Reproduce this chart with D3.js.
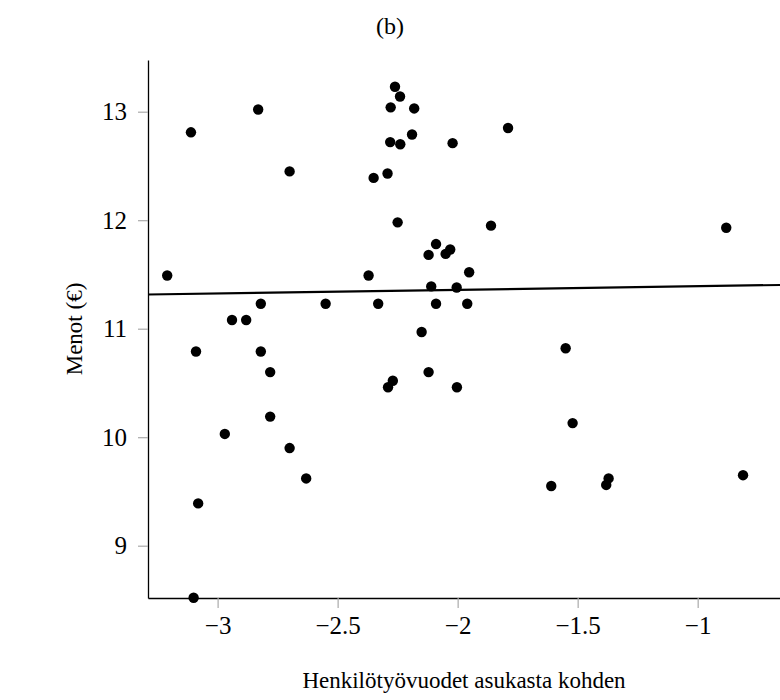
<!DOCTYPE html>
<html>
<head>
<meta charset="utf-8">
<script src="https://cdn.jsdelivr.net/npm/d3@7"></script>
<style>
    body { margin: 0; background: #fff; }
    svg { display: block; font-family: "Liberation Serif", "DejaVu Serif", serif; }
</style>
</head>
<body>
<div id="chart"></div>
<script>
// henkilötyövuodet (log) vs menot (log)
const staffYears = [
    -2.261, -2.240, -2.279, -2.181, -2.831, -3.111, -2.190, -2.281, -2.239, -2.021,
    -2.700, -2.292, -2.350, -2.250, -2.090, -2.121, -2.050, -2.031, -3.210, -2.371,
    -2.110, -2.004, -2.820, -2.550, -2.331, -2.090, -2.940, -2.881, -1.790, -1.861,
    -0.881, -1.952, -1.960, -2.150, -3.090, -2.820, -2.781, -2.121, -2.270, -2.290,
    -2.003, -2.781, -2.970, -2.700, -2.631, -3.081, -3.100, -1.550, -1.521, -1.610,
    -1.371, -1.381, -0.811
];
const expenses = [
    13.23, 13.14, 13.04, 13.03, 13.02, 12.81, 12.79, 12.72, 12.70, 12.71,
    12.45, 12.43, 12.39, 11.98, 11.78, 11.68, 11.69, 11.73, 11.49, 11.49,
    11.39, 11.38, 11.23, 11.23, 11.23, 11.23, 11.08, 11.08, 12.85, 11.95,
    11.93, 11.52, 11.23, 10.97, 10.79, 10.79, 10.60, 10.60, 10.52, 10.46,
    10.46, 10.19, 10.03, 9.90, 9.62, 9.39, 8.52, 10.82, 10.13, 9.55,
    9.62, 9.56, 9.65
];

// fitted line, read from its two ends
const fitX = [-3.29, -0.657];
const fitY = [11.315, 11.403];

const xTicks = [-3, -2.5, -2, -1.5, -1];
const yTicks = [9, 10, 11, 12, 13];

const width = 780, height = 700;
const margin = { left: 148, right: 0, top: 60, bottom: 102 };

const svg = d3.select('#chart')
    .append('svg')
    .attr('width', width)
    .attr('height', height);

const xScale = d3.scaleLinear()
    .domain([-3.29, -0.657])
    .range([margin.left, width - margin.right]);

const yScale = d3.scaleLinear()
    .domain([8.518, 13.4765])
    .range([height - margin.bottom, margin.top]);

const fmt = d => String(d).replace('-', '\u2212');

// axes
const xAxis = svg.append('g')
    .attr('transform', `translate(0, ${height - margin.bottom})`)
    .call(d3.axisBottom(xScale).tickValues(xTicks).tickFormat(fmt).tickSizeInner(10).tickSizeOuter(0).tickPadding(3));

const yAxis = svg.append('g')
    .attr('transform', `translate(${margin.left}, 0)`)
    .call(d3.axisLeft(yScale).tickValues(yTicks).tickFormat(fmt).tickSizeInner(10).tickSizeOuter(0).tickPadding(11));

[xAxis, yAxis].forEach(function(g) {
    g.select('.domain').attr('stroke', '#000').attr('stroke-width', 1.3);
    g.selectAll('.tick line').attr('stroke', '#aaa').attr('stroke-width', 1.2);
    g.selectAll('.tick text')
        .attr('fill', '#000')
        .style('font-family', '"Liberation Serif", serif')
        .style('font-size', '25px');
});
xAxis.selectAll('.tick text').attr('dy', '0.9em');
yAxis.selectAll('.tick text').attr('dy', '0.33em');

// regression line
const fit = fitX.map((x, i) => [x, fitY[i]]);
svg.append('path')
    .datum(fit)
    .attr('fill', 'none')
    .attr('stroke', '#000')
    .attr('stroke-width', 2.2)
    .attr('d', d3.line().x(d => xScale(d[0])).y(d => yScale(d[1])));

// points
const points = staffYears.map((x, i) => ({ x: x, y: expenses[i] }));
svg.selectAll('circle.pt')
    .data(points)
    .enter()
    .append('circle')
    .attr('class', 'pt')
    .attr('cx', d => xScale(d.x))
    .attr('cy', d => yScale(d.y))
    .attr('r', 5.2)
    .attr('fill', '#000');

// labels
svg.append('text')
    .attr('x', width / 2)
    .attr('y', 34)
    .attr('text-anchor', 'middle')
    .style('font-size', '24px')
    .text('(b)');

svg.append('text')
    .attr('x', (margin.left + width - margin.right) / 2)
    .attr('y', 688)
    .attr('text-anchor', 'middle')
    .style('font-size', '23px')
    .text('Henkilötyövuodet asukasta kohden');

svg.append('text')
    .attr('x', -(margin.top + height - margin.bottom) / 2)
    .attr('y', 82)
    .attr('text-anchor', 'middle')
    .attr('transform', 'rotate(-90)')
    .style('font-size', '23px')
    .text('Menot (€)');
</script>
</body>
</html>
